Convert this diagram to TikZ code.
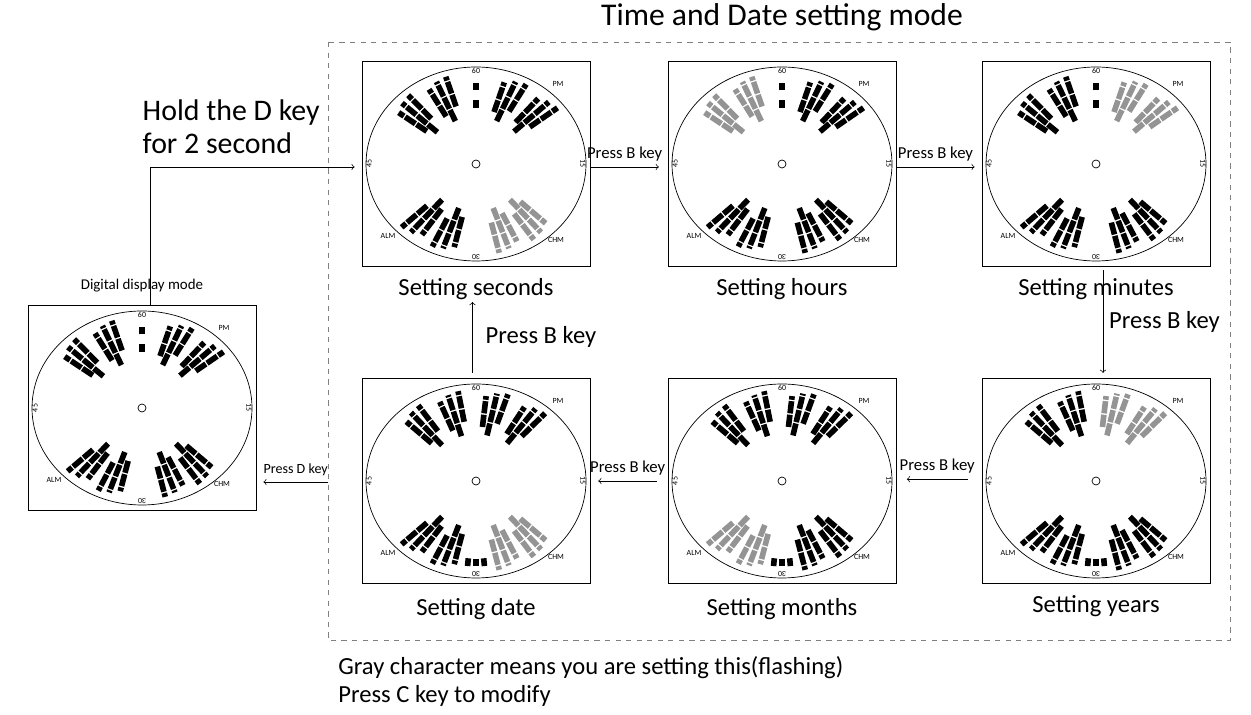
\documentclass[tikz,border=0pt]{standalone}
\usepackage{fontspec}
\setmainfont{Carlito}
\usetikzlibrary{positioning}
\colorlet{flash}{black!42}
\tikzset{
  face/.style={draw, thin, minimum width=4.56cm, minimum height=4.1cm, inner sep=0pt},
  bar/.style={line width=3.2pt, dash pattern=on 7pt off 0.8pt},
  arr/.style={->, thin},
  tiny/.style={font=\fontsize{4.5}{5}\selectfont, inner sep=0.5pt},
  lab/.style={font=\fontsize{14}{16}\selectfont},
  key/.style={font=\fontsize{9.5}{11}\selectfont},
}
% one watch face drawn around a face node
\newcommand\watch[6]{%
  \begin{scope}[shift={(#1.center)}, yscale=-1]
    \draw[thin] (0,0) ellipse (110 and 97);
    \draw[thin] (0,0) circle (4);
    \node[tiny] at (0,93) {60};
    \node[tiny, rotate=180] at (0,-93) {30};
    \node[tiny, rotate=-90] at (107,0) {15};
    \node[tiny, rotate=90] at (-107,0) {45};
    \node[tiny] at (-88,-72) {ALM};
    \node[tiny] at (80,-76) {CHM};
    \node[tiny] at (82,80) {PM};
    \ifnum#6=1
      \foreach \c/\col in {137/#2,113/#2,67/#3,44/#3}
        \foreach \d/\ra/\rb in {-6/0.62/0.94,0/0.48/0.92,6/0.56/0.88}
          \draw[bar,\col] ({\c+\d}:{\ra*110} and {\ra*97}) -- ({\c+\d}:{\rb*110} and {\rb*97});
      \draw[bar,black] (90:{0.58*110} and {0.58*97}) -- (90:{0.66*110} and {0.66*97});
      \draw[bar,black] (90:{0.76*110} and {0.76*97}) -- (90:{0.84*110} and {0.84*97});
    \else
      \foreach \c/\col in {130/#2,106/#2,78/#3,54/#3}
        \foreach \d/\ra/\rb in {-6/0.62/0.94,0/0.48/0.92,6/0.56/0.88}
          \draw[bar,\col] ({\c+\d}:{\ra*110} and {\ra*97}) -- ({\c+\d}:{\rb*110} and {\rb*97});
      \foreach \d in {-5,0,5}
        \draw[bar,black] ({270+\d}:{0.8*110} and {0.8*97}) -- ({270+\d}:{0.88*110} and {0.88*97});
    \fi
    \foreach \c/\col in {230/#4,251/#4,289/#5,310/#5}
      \foreach \d/\ra/\rb in {-6/0.62/0.94,0/0.48/0.92,6/0.56/0.88}
        \draw[bar,\col] ({\c+\d}:{\ra*110} and {\ra*97}) -- ({\c+\d}:{\rb*110} and {\rb*97});
  \end{scope}}
\begin{document}
\begin{tikzpicture}[x=0.02cm, y=-0.02cm]
\useasboundingbox (0,0) rectangle (1251,715);

% setting mode frame
\draw[dashed, gray] (328,42) rectangle (1230,640);
\node[font=\fontsize{18}{20}\selectfont] (title) at (782,17) {Time and Date setting mode};

% faces
\node[face] (disp) at (142,408) {};
\node[face] (sec) at (476,164) {};
\node[face] (hrs) at (782,164) {};
\node[face] (mins) at (1096,164) {};
\node[face] (date) at (476,481) {};
\node[face] (mon) at (782,481) {};
\node[face] (yrs) at (1096,481) {};

\watch{disp}{black}{black}{black}{black}{1}
\watch{sec}{black}{black}{black}{flash}{1}
\watch{hrs}{flash}{black}{black}{black}{1}
\watch{mins}{black}{flash}{black}{black}{1}
\watch{yrs}{black}{flash}{black}{black}{0}
\watch{mon}{black}{black}{flash}{black}{0}
\watch{date}{black}{black}{black}{flash}{0}

% names
\node[font=\fontsize{8.5}{10}\selectfont, above=4pt of disp] {Digital display mode};
\node[lab, below=3pt of sec] {Setting seconds};
\node[lab, below=3pt of hrs] {Setting hours};
\node[lab, below=3pt of mins] {Setting minutes};
\node[lab, below=5pt of date] {Setting date};
\node[lab, below=5pt of mon] {Setting months};
\node[lab, below=3pt of yrs] {Setting years};

% transitions
\draw[arr] ([xshift=4.5]disp.north) |- ([xshift=-4,yshift=-1.7]sec.west)
  node[pos=0.75, above, align=left, xshift=-12, yshift=4, font=\fontsize{17}{19}\selectfont] {Hold the D key\\for 2 second};
\draw[arr] ([yshift=-1.7]sec.east) -- node[above, key] {Press B key} ([xshift=-5,yshift=-1.7]hrs.west);
\draw[arr] ([yshift=-1.7]hrs.east) -- node[above, key] {Press B key} ([xshift=-4,yshift=-1.7]mins.west);
\draw[arr] ([xshift=4,yshift=-2]mins.south) -- node[right, lab] {Press B key} ([xshift=4,yshift=3]yrs.north);
\draw[arr] ([xshift=-8,yshift=1]yrs.west) -- node[above, key] {Press B key} ([xshift=6,yshift=1]mon.east);
\draw[arr] ([xshift=-6]mon.west) -- node[above, key] {Press B key} ([xshift=4.5]date.east);
\draw[arr] ([xshift=-2,yshift=3]date.north) -- node[right, lab, xshift=4] {Press B key} ([xshift=-2,yshift=-20]sec.south);
\coordinate (exit) at (328,482);
\draw[arr] (exit) -- node[above, font=\fontsize{8}{9}\selectfont] {Press D key} ([xshift=4]disp.east |- exit);

% note
\node[lab, align=left, anchor=north west, inner sep=0pt] (note) at (338,656)
  {Gray character means you are setting this(flashing)\\Press C key to modify};
\end{tikzpicture}
\end{document}
